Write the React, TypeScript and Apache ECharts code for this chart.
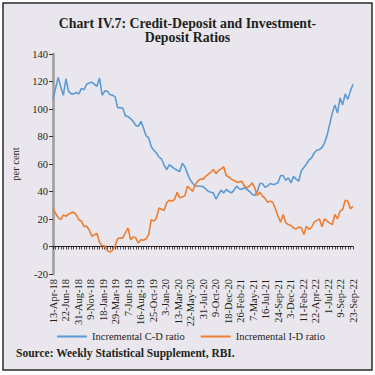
import React, { useEffect, useRef } from "react";
import * as echarts from "echarts";

const startDate = "2018-04-13";
const tickLabels = [
  "13-Apr-18", "22-Jun-18", "31-Aug-18", "9-Nov-18", "18-Jan-19", "29-Mar-19",
  "7-Jun-19", "16-Aug-19", "25-Oct-19", "3-Jan-20", "13-Mar-20", "22-May-20",
  "31-Jul-20", "9-Oct-20", "18-Dec-20", "26-Feb-21", "7-May-21", "16-Jul-21",
  "24-Sep-21", "3-Dec-21", "11-Feb-22", "22-Apr-22", "1-Jul-22", "9-Sep-22", "23-Sep-22",
];

const cdRatio = [
  107, 115, 123, 116, 110, 122, 113, 111, 111, 112,
  111, 115, 114, 118, 119, 119.5, 118, 116.5, 122.5, 110,
  113, 113, 110.5, 110, 109, 101, 101, 100.5, 95, 94.5,
  93, 91, 88, 87.5, 91, 86, 80.5, 79, 72.5, 70,
  68, 65, 63.5, 59, 56, 59.5, 58, 56.5, 55.5, 54.5,
  60.5, 58, 53, 48.5, 46, 44, 44, 43.8, 43.6, 42,
  40.2, 39.5, 39, 34.5, 37.8, 41, 39, 41.5, 40, 39,
  41, 43.9, 42, 41.5, 42.7, 41.5, 40, 38, 37, 40,
  45.8, 45.8, 43, 44, 45.8, 45, 45.5, 46.3, 51.6, 51.6,
  48, 50, 46.3, 51, 49, 47.5, 55, 57.5, 60, 63,
  64.5, 68, 70, 70.5, 72, 75.4, 81, 89, 97, 103,
  97, 108, 103, 111, 107, 113, 118,
];

const idRatio = [
  28, 24, 21, 19.5, 23, 22, 23.5, 24.5, 25, 23,
  19.5, 18.5, 14.5, 14.8, 12, 7.5, 8.5, 9.5, 3, 0.5,
  0.5, -3, -4, -3, 0.5, 5.6, 6.3, 6.3, 10, 13.6,
  5, 7, 6.3, 2.5, 5, 4.5, 5.5, 8.7, 19.6, 18.4,
  20.8, 28, 27, 26.4, 32, 33.7, 33, 34.2, 39.5, 35.4,
  36, 37, 43.9, 42, 40, 45, 47.5, 49.2, 48.7, 51,
  52.4, 54, 56, 53, 55.3, 56.5, 58, 51.6, 50.5, 49,
  48, 46.8, 47, 47.5, 44, 42.7, 44, 46.3, 42.7, 37.1,
  39.5, 36.6, 35, 32.2, 33, 32.2, 27.4, 22, 17.7, 23.3,
  17.2, 16, 15.3, 13.5, 12.8, 14, 13.6, 8.7, 14.8, 12.4,
  14, 17.7, 19, 20.1, 14.3, 20.1, 18.4, 17, 16, 23.3,
  20.1, 25.7, 26.9, 33.7, 33, 27.4, 29.3,
];

const seriesNames = ["Incremental C-D ratio", "Incremental I-D ratio"];
const yTicks = { min: -20, max: 140, interval: 20 };

function fortnightDates(start: string, n: number): string[] {
  const out: string[] = [];
  const t0 = new Date(start + "T00:00:00Z").getTime();
  for (let i = 0; i < n; i++) {
    const d = new Date(t0 + i * 14 * 86400000);
    out.push(d.toISOString().slice(0, 10));
  }
  return out;
}

export default function App() {
  const ref = useRef<HTMLDivElement>(null);
  useEffect(() => {
    if (!ref.current) return;
    const chart = echarts.init(ref.current, null, { renderer: "svg" });
    const dates = fortnightDates(startDate, cdRatio.length);
    const font = "'Liberation Serif', 'Times New Roman', serif";
    const ink = "#231F20";
    chart.setOption({
      animation: false,
      backgroundColor: "#ffffff",
      title: {
        text: "Chart IV.7: Credit-Deposit and Investment-\nDeposit Ratios",
        left: "center",
        top: 11,
        textStyle: { fontFamily: font, fontWeight: "bold", fontSize: 13.8, lineHeight: 14.5, color: ink },
      },
      graphic: [
        {
          type: "rect",
          z: -10,
          shape: { x: 3, y: 3, width: 369, height: 367 },
          style: { fill: "#E9E7ED", stroke: "#2a2a2a", lineWidth: 1.5 },
        },
        {
          type: "text",
          left: 16,
          top: 347,
          style: {
            text: "Source: Weekly Statistical Supplement, RBI.",
            fontFamily: font,
            fontWeight: "bold",
            fontSize: 11.5,
            fill: ink,
          },
        },
      ],
      legend: {
        left: 52,
        top: 326,
        itemWidth: 30,
        itemHeight: 2,
        itemGap: 16,
        icon: "rect",
        textStyle: { fontFamily: font, fontSize: 10.5, color: ink },
        data: seriesNames,
      },
      grid: { left: 53, right: 22, top: 54, bottom: 101 },
      xAxis: [
        {
          type: "category",
          data: dates,
          boundaryGap: false,
          axisLine: { onZero: true, lineStyle: { color: ink, width: 1 } },
          axisTick: { show: true, interval: 0, length: 3, lineStyle: { color: ink, width: 0.8 } },
          axisLabel: { show: false },
          splitLine: { show: false },
        },
        {
          type: "category",
          data: tickLabels,
          boundaryGap: false,
          position: "bottom",
          axisLine: { show: false, onZero: false },
          axisTick: { show: false },
          axisLabel: {
            interval: 0,
            rotate: 90,
            margin: 5,
            fontFamily: font,
            fontSize: 10.5,
            color: ink,
          },
          splitLine: { show: false },
        },
      ],
      yAxis: {
        type: "value",
        min: yTicks.min,
        max: yTicks.max,
        interval: yTicks.interval,
        name: "per cent",
        nameLocation: "middle",
        nameRotate: 90,
        nameGap: 24,
        nameTextStyle: { fontFamily: font, fontSize: 10.5, color: ink },
        axisLine: { show: true, lineStyle: { color: "#9B9B9B", width: 2.5 } },
        axisTick: { show: true, length: 4, lineStyle: { color: "#333" } },
        axisLabel: { fontFamily: font, fontSize: 10.5, color: ink, margin: 5 },
        splitLine: { show: false },
      },
      series: [
        {
          name: seriesNames[0],
          type: "line",
          data: cdRatio,
          xAxisIndex: 0,
          showSymbol: false,
          symbol: "none",
          color: "#5B9BD5",
          lineStyle: { width: 1.6, color: "#5B9BD5" },
        },
        {
          name: seriesNames[1],
          type: "line",
          data: idRatio,
          xAxisIndex: 0,
          showSymbol: false,
          symbol: "none",
          color: "#ED7D31",
          lineStyle: { width: 1.6, color: "#ED7D31" },
        },
      ],
    });
    return () => chart.dispose();
  }, []);
  return (
    <div
      ref={ref}
      style={{ position: "absolute", left: 0, top: 0, width: 375, height: 375 }}
    />
  );
}
